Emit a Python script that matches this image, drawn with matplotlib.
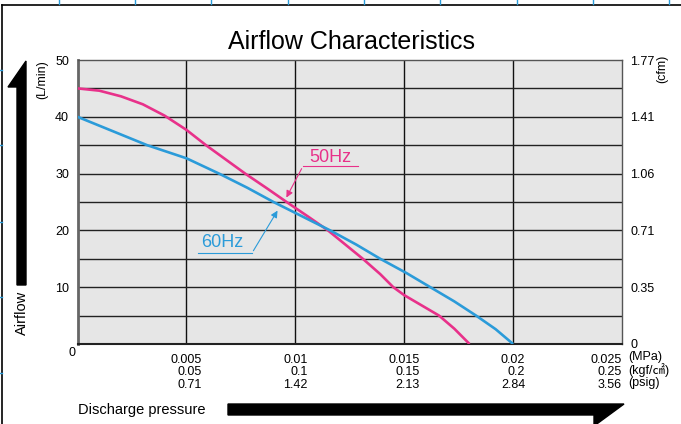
import matplotlib.pyplot as plt
from matplotlib.patches import Polygon
from matplotlib.lines import Line2D

plt.rcParams['font.family'] = ['Liberation Sans', 'Noto Sans CJK JP', 'DejaVu Sans']

# discharge pressure (MPa) and airflow (L/min)
p50 = [0, 0.001, 0.002, 0.003, 0.004, 0.005, 0.0059, 0.0068, 0.0077, 0.0087, 0.0096, 0.0106,
       0.0115, 0.0123, 0.0131, 0.0139, 0.0145, 0.015, 0.0158, 0.0166, 0.0173, 0.018]
q50 = [45, 44.6, 43.6, 42.2, 40.2, 37.7, 35, 32.5, 30, 27.4, 25, 22.4,
       20, 17.5, 15, 12.3, 10, 8.6, 6.8, 5, 2.7, 0]
p60 = [0, 0.0016, 0.0032, 0.005, 0.0065, 0.0078, 0.009, 0.0103, 0.0116, 0.0128, 0.0139,
       0.0151, 0.0162, 0.0173, 0.0183, 0.0192, 0.02]
q60 = [40, 37.5, 35, 32.7, 30, 27.5, 25, 22.5, 20, 17.5, 15, 12.5, 10, 7.5, 5, 2.6, 0]

x_ticks = [0.005, 0.01, 0.015, 0.02, 0.025]
mpa_labels = ['0.005', '0.01', '0.015', '0.02', '0.025']
kgf_labels = ['0.05', '0.1', '0.15', '0.2', '0.25']
psig_labels = ['0.71', '1.42', '2.13', '2.84', '3.56']
y_ticks = [10, 20, 30, 40, 50]
cfm_ticks = [0, 10, 20, 30, 40, 50]
cfm_labels = ['0', '0.35', '0.71', '1.06', '1.41', '1.77']

pink = '#e8318a'
blue = '#2b9bd9'
W, H = 681, 424


def fp(x, y):
    # pixel position -> figure fraction
    return (x / W, 1 - y / H)


fig = plt.figure(figsize=(6.81, 4.24), dpi=100)
ax = fig.add_axes([77.5 / W, 1 - 344 / H, (622 - 77.5) / W, (344 - 60) / H])
ax.set_facecolor('#e6e6e6')
ax.set_xlim(0, 0.025)
ax.set_ylim(0, 50)

for v in x_ticks[:-1]:
    ax.axvline(v, color='#111111', lw=1.0, zorder=1)
for v in range(5, 50, 5):
    ax.axhline(v, color='#222222', lw=1.0, zorder=1)

ax.plot(p50, q50, color=pink, lw=1.9, zorder=3, solid_capstyle='butt', solid_joinstyle='round')
ax.plot(p60, q60, color=blue, lw=1.9, zorder=3, solid_capstyle='butt', solid_joinstyle='round')

for s in ['top', 'right']:
    ax.spines[s].set_color('#555555')
    ax.spines[s].set_linewidth(1.0)
ax.spines['left'].set_color('#666666')
ax.spines['left'].set_linewidth(2.0)
ax.spines['bottom'].set_color('#222222')
ax.spines['bottom'].set_linewidth(1.5)

ax.set_yticks(y_ticks)
ax.set_yticklabels([str(v) for v in y_ticks])
ax.set_xticks(x_ticks)
ax.set_xticklabels([a + '\n' + b + '\n' + c for a, b, c in zip(mpa_labels, kgf_labels, psig_labels)])
ax.tick_params(axis='both', length=0, labelsize=9)
ax.tick_params(axis='y', pad=6)
ax.tick_params(axis='x', pad=7)
xlabels = ax.get_xticklabels()
for t in xlabels:
    t.set_multialignment('right')
    t.set_linespacing(1.05)
xlabels[-1].set_horizontalalignment('right')

ax2 = ax.twinx()
ax2.set_ylim(0, 50)
ax2.set_yticks(cfm_ticks)
ax2.set_yticklabels(cfm_labels)
ax2.tick_params(axis='y', length=0, labelsize=9, pad=6)
for s in ax2.spines.values():
    s.set_visible(False)

# annotations
ax.text(0.01159, 32.9, '50Hz', color=pink, fontsize=13, ha='center', va='center', zorder=5)
ax.add_line(Line2D([0.01035, 0.01288], [31.3, 31.3], color=pink, lw=0.8, zorder=5))
ax.annotate('', xy=(0.00953, 25.35), xytext=(0.01035, 31.3),
            arrowprops=dict(arrowstyle='-|>', color=pink, lw=0.8, mutation_scale=10), zorder=5)
ax.text(0.00663, 17.9, '60Hz', color=blue, fontsize=13, ha='center', va='center', zorder=5)
ax.add_line(Line2D([0.00553, 0.00801], [16.0, 16.0], color=blue, lw=0.8, zorder=5))
ax.annotate('', xy=(0.00925, 23.9), xytext=(0.00801, 16.0),
            arrowprops=dict(arrowstyle='-|>', color=blue, lw=0.8, mutation_scale=10), zorder=5)

# texts outside the plot
fig.text(*fp(352, 42), 'Airflow Characteristics', fontsize=18, ha='center', va='center')
fig.text(*fp(72, 353), '0', fontsize=9, ha='center', va='center')
fig.text(*fp(42, 80), '(L/min)', fontsize=9, rotation=90, ha='center', va='center')
fig.text(*fp(662, 69), '(cfm)', fontsize=9, rotation=90, ha='center', va='center')
fig.text(*fp(628, 357), '(MPa)', fontsize=9, ha='left', va='center')
fig.text(*fp(628, 370), '(kgf/㎠)', fontsize=9, ha='left', va='center')
fig.text(*fp(628, 383), '(psig)', fontsize=9, ha='left', va='center')
fig.text(*fp(22, 313), 'Airflow', fontsize=10.5, rotation=90, ha='center', va='center')
fig.text(*fp(78, 410), 'Discharge pressure', fontsize=10.5, ha='left', va='center')

# big arrows
up = [(17, 285), (26, 285), (26, 61), (8, 87), (17, 87)]
fig.add_artist(Polygon([fp(*p) for p in up], closed=True, color='black', transform=fig.transFigure))
right = [(228, 415), (228, 404), (624, 404), (594, 426), (594, 415)]
fig.add_artist(Polygon([fp(*p) for p in right], closed=True, color='black', transform=fig.transFigure))

# page frame
fig.add_artist(Line2D([fp(2, 5)[0], 1], [fp(2, 5)[1]] * 2, color='black', lw=1.2, transform=fig.transFigure))
fig.add_artist(Line2D([fp(2, 5)[0]] * 2, [fp(2, 5)[1], 0], color='black', lw=1.2, transform=fig.transFigure))
for x in [59, 135, 211, 288, 364, 440, 517, 593, 669]:
    fig.add_artist(Line2D([x / W] * 2, [fp(0, 0)[1], fp(0, 4)[1]], color=blue, lw=1.0, transform=fig.transFigure))
for y in [70, 145, 222, 297, 373]:
    fig.add_artist(Line2D([0, 1.5 / W], [fp(0, y)[1]] * 2, color=blue, lw=1.0, transform=fig.transFigure))

fig.savefig('out.png', dpi=100)
